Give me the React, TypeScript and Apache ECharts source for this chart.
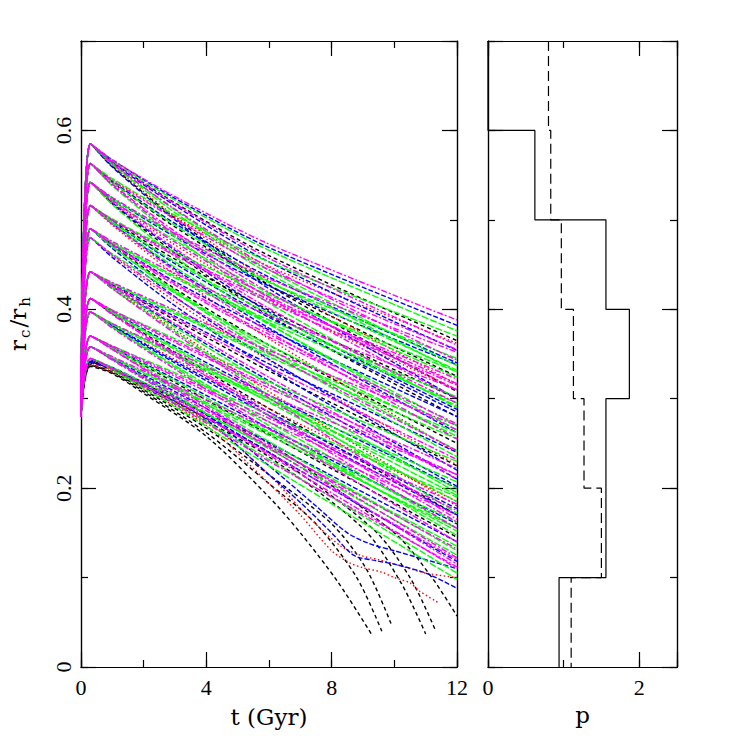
import { useEffect, useRef } from "react";
import * as echarts from "echarts";

// ---------- data ----------
const START_VALUE = 0.28; // r_c/r_h at t = 0
const READ_TIMES = [0.3, 1, 3, 6, 12]; // Gyr at which each curve was read

// rows: [colour code, value at 0.3, 1, 3, 6, 12 Gyr]
const familyA = [
  ["m", 0.585, 0.567, 0.526, 0.473, 0.388],
  ["b", 0.585, 0.567, 0.524, 0.469, 0.382],
  ["g", 0.585, 0.566, 0.522, 0.466, 0.376],
  ["k", 0.585, 0.565, 0.519, 0.46, 0.365],
  ["m", 0.585, 0.565, 0.518, 0.457, 0.36],
  ["b", 0.585, 0.564, 0.516, 0.453, 0.354],
  ["m", 0.585, 0.563, 0.512, 0.447, 0.343],
  ["g", 0.585, 0.563, 0.511, 0.444, 0.337],
  ["g", 0.585, 0.562, 0.508, 0.44, 0.33],
  ["r", 0.585, 0.561, 0.504, 0.432, 0.316],
  ["k", 0.585, 0.56, 0.502, 0.427, 0.308],
  ["b", 0.585, 0.559, 0.5, 0.423, 0.3],
];
const familyB = [
  ["g", 0.563, 0.546, 0.505, 0.453, 0.37],
  ["r", 0.563, 0.545, 0.503, 0.448, 0.362],
  ["m", 0.563, 0.544, 0.501, 0.444, 0.355],
  ["b", 0.563, 0.543, 0.496, 0.436, 0.34],
  ["g", 0.563, 0.542, 0.494, 0.431, 0.332],
  ["k", 0.563, 0.542, 0.492, 0.427, 0.325],
  ["m", 0.563, 0.54, 0.487, 0.419, 0.31],
  ["m", 0.563, 0.539, 0.484, 0.413, 0.3],
  ["g", 0.563, 0.538, 0.481, 0.407, 0.29],
];
const familyC = [
  ["m", 0.542, 0.525, 0.485, 0.434, 0.352],
  ["g", 0.542, 0.524, 0.483, 0.43, 0.345],
  ["b", 0.542, 0.524, 0.481, 0.426, 0.338],
  ["g", 0.542, 0.522, 0.477, 0.418, 0.324],
  ["m", 0.542, 0.522, 0.475, 0.414, 0.317],
  ["r", 0.542, 0.521, 0.472, 0.41, 0.31],
  ["m", 0.542, 0.52, 0.468, 0.401, 0.295],
  ["b", 0.542, 0.519, 0.466, 0.397, 0.288],
  ["k", 0.542, 0.518, 0.463, 0.393, 0.28],
  ["g", 0.542, 0.517, 0.459, 0.384, 0.265],
];
const familyD = [
  ["g", 0.516, 0.501, 0.464, 0.416, 0.33],
  ["m", 0.516, 0.5, 0.462, 0.411, 0.322],
  ["m", 0.516, 0.5, 0.46, 0.408, 0.315],
  ["k", 0.516, 0.499, 0.456, 0.399, 0.3],
  ["g", 0.516, 0.498, 0.453, 0.395, 0.292],
  ["b", 0.516, 0.498, 0.451, 0.391, 0.285],
  ["g", 0.516, 0.496, 0.447, 0.383, 0.27],
  ["b", 0.516, 0.496, 0.445, 0.379, 0.262],
  ["m", 0.516, 0.495, 0.443, 0.375, 0.255],
  ["r", 0.516, 0.494, 0.439, 0.367, 0.24],
];
const familyE = [
  ["m", 0.49, 0.476, 0.44, 0.393, 0.31],
  ["g", 0.49, 0.475, 0.437, 0.388, 0.302],
  ["g", 0.49, 0.474, 0.435, 0.385, 0.295],
  ["b", 0.49, 0.473, 0.431, 0.377, 0.28],
  ["m", 0.49, 0.473, 0.429, 0.372, 0.272],
  ["m", 0.49, 0.472, 0.427, 0.369, 0.265],
  ["k", 0.49, 0.471, 0.423, 0.36, 0.25],
  ["g", 0.49, 0.47, 0.421, 0.356, 0.242],
  ["g", 0.49, 0.47, 0.419, 0.352, 0.235],
  ["b", 0.49, 0.468, 0.414, 0.344, 0.22],
];
const familyE2 = [
  ["g", 0.48, 0.462, 0.418, 0.36, 0.258],
  ["m", 0.48, 0.461, 0.413, 0.351, 0.242],
  ["r", 0.48, 0.46, 0.409, 0.343, 0.226],
  ["b", 0.48, 0.458, 0.404, 0.334, 0.21],
];
const familyF = [
  ["m", 0.442, 0.43, 0.399, 0.354, 0.27],
  ["g", 0.442, 0.429, 0.397, 0.35, 0.262],
  ["g", 0.442, 0.429, 0.395, 0.347, 0.255],
  ["b", 0.442, 0.428, 0.392, 0.339, 0.24],
  ["m", 0.442, 0.427, 0.39, 0.335, 0.232],
  ["k", 0.442, 0.427, 0.388, 0.331, 0.225],
  ["m", 0.442, 0.426, 0.384, 0.324, 0.21],
  ["b", 0.442, 0.425, 0.382, 0.32, 0.202],
  ["g", 0.442, 0.425, 0.38, 0.316, 0.195],
  ["r", 0.442, 0.424, 0.377, 0.308, 0.18],
  ["g", 0.442, 0.423, 0.375, 0.304, 0.172],
  ["m", 0.442, 0.423, 0.373, 0.301, 0.165],
];
const familyG = [
  ["g", 0.412, 0.399, 0.367, 0.319, 0.23],
  ["m", 0.412, 0.399, 0.365, 0.315, 0.222],
  ["m", 0.412, 0.398, 0.363, 0.312, 0.215],
  ["b", 0.412, 0.397, 0.359, 0.304, 0.2],
  ["g", 0.412, 0.397, 0.357, 0.3, 0.192],
  ["g", 0.412, 0.396, 0.355, 0.296, 0.185],
  ["k", 0.412, 0.395, 0.352, 0.289, 0.17],
  ["m", 0.412, 0.395, 0.35, 0.285, 0.162],
  ["m", 0.412, 0.394, 0.348, 0.281, 0.155],
];
const familyH = [
  ["m", 0.397, 0.384, 0.352, 0.304, 0.215],
  ["g", 0.397, 0.384, 0.35, 0.3, 0.207],
  ["g", 0.397, 0.383, 0.348, 0.297, 0.2],
  ["r", 0.397, 0.382, 0.344, 0.289, 0.185],
  ["b", 0.397, 0.382, 0.342, 0.285, 0.177],
  ["b", 0.397, 0.381, 0.34, 0.281, 0.17],
  ["g", 0.397, 0.38, 0.337, 0.274, 0.155],
  ["g", 0.397, 0.38, 0.335, 0.27, 0.147],
  ["m", 0.397, 0.379, 0.333, 0.266, 0.14],
];
const familyI = [
  ["g", 0.37, 0.359, 0.329, 0.282, 0.19],
  ["m", 0.37, 0.359, 0.327, 0.278, 0.182],
  ["m", 0.37, 0.358, 0.325, 0.274, 0.175],
  ["b", 0.37, 0.357, 0.322, 0.267, 0.16],
  ["g", 0.37, 0.357, 0.32, 0.263, 0.152],
  ["k", 0.37, 0.357, 0.318, 0.26, 0.145],
  ["g", 0.37, 0.356, 0.315, 0.252, 0.13],
  ["m", 0.37, 0.355, 0.313, 0.249, 0.122],
  ["m", 0.37, 0.355, 0.311, 0.245, 0.115],
];
const familyJ = [
  ["m", 0.358, 0.347, 0.315, 0.266, 0.17],
  ["g", 0.358, 0.346, 0.313, 0.262, 0.162],
  ["g", 0.358, 0.346, 0.311, 0.259, 0.155],
  ["b", 0.358, 0.345, 0.308, 0.251, 0.14],
  ["m", 0.358, 0.344, 0.306, 0.247, 0.132],
  ["g", 0.358, 0.344, 0.304, 0.244, 0.125],
  ["b", 0.358, 0.344, 0.303, 0.24, 0.118],
  ["m", 0.358, 0.343, 0.301, 0.237, 0.11],
];
const familyK = [
  ["g", 0.345, 0.335, 0.301, 0.246, 0.135],
  ["m", 0.345, 0.334, 0.298, 0.239, 0.12],
  ["g", 0.345, 0.333, 0.295, 0.232, 0.105],
  ["m", 0.345, 0.333, 0.294, 0.23, 0.112],
  ["g", 0.345, 0.332, 0.291, 0.225, 0.098],
];

// collapsing / noisy low curves, read point by point: [t, r_c/r_h]
const tailCurves: { c: string; pts: number[][] }[] = [
  { c: "k", pts: [[0, 0.28], [0.3, 0.336], [1, 0.328], [2, 0.306], [4, 0.258], [6, 0.19], [7, 0.15], [8.2, 0.095], [9.3, 0.035]] },
  { c: "k", pts: [[0, 0.28], [0.3, 0.337], [1, 0.329], [2, 0.308], [4, 0.262], [6, 0.205], [7.5, 0.16], [8.8, 0.1], [9.6, 0.04]] },
  { c: "k", pts: [[0, 0.28], [0.3, 0.338], [1, 0.33], [2, 0.31], [4, 0.267], [6, 0.215], [8, 0.16], [9.1, 0.11], [9.9, 0.048]] },
  { c: "k", pts: [[0, 0.28], [0.3, 0.34], [1, 0.332], [2, 0.313], [4, 0.275], [6, 0.235], [9, 0.155], [10.2, 0.095], [11.0, 0.037]] },
  { c: "k", pts: [[0, 0.28], [0.3, 0.341], [1, 0.333], [2, 0.315], [4, 0.278], [6, 0.24], [9.3, 0.155], [10.5, 0.1], [11.3, 0.042]] },
  { c: "k", pts: [[0, 0.28], [0.3, 0.342], [1, 0.334], [2, 0.317], [4, 0.283], [6, 0.25], [10, 0.15], [11.2, 0.1], [12, 0.057]] },
  { c: "r", pts: [[0, 0.28], [0.3, 0.338], [1, 0.33], [2, 0.311], [4, 0.27], [6, 0.205], [7, 0.17], [8, 0.13], [8.6, 0.116], [9, 0.111], [9.6, 0.106], [10, 0.1], [10.5, 0.094], [10.8, 0.085], [11.4, 0.072]] },
  { c: "r", pts: [[0, 0.28], [0.3, 0.34], [1, 0.332], [2, 0.314], [4, 0.275], [6, 0.215], [7.2, 0.17], [8.3, 0.135], [9, 0.124], [9.5, 0.12], [10.3, 0.112], [11, 0.105], [12, 0.1]] },
  { c: "b", pts: [[0, 0.28], [0.3, 0.341], [1, 0.333], [2, 0.315], [4, 0.277], [6, 0.215], [7, 0.184], [8, 0.15], [8.7, 0.125], [9.4, 0.119], [10, 0.115], [11, 0.105], [12, 0.088]] },
  { c: "b", pts: [[0, 0.28], [0.3, 0.343], [1, 0.335], [2, 0.318], [4, 0.282], [6, 0.225], [7.5, 0.18], [8.5, 0.15], [9.2, 0.138], [10, 0.13], [11, 0.12], [12, 0.11]] },
];

// right panel: distribution of p in bins of r_c/r_h
const binEdges = [0, 0.1, 0.2, 0.3, 0.4, 0.5, 0.6, 0.7];
const pSolid = [0.94, 1.56, 1.56, 1.87, 1.56, 0.62, 0];
const pDashed = [1.1, 1.5, 1.27, 1.13, 0.97, 0.83, 0.8];

const tLabels = [0, 4, 8, 12];
const pLabels = [0, 2];
const yLabels = [0, 0.2, 0.4, 0.6];
const yTitleParts = [
  { text: "r", sub: false },
  { text: "c", sub: true },
  { text: "/r", sub: false },
  { text: "h", sub: true },
];

// ---------- styles ----------
const COLORS: Record<string, string> = {
  k: "#000000",
  r: "#ff0000",
  b: "#0000ff",
  g: "#00ff00",
  m: "#ff00ff",
};
const DASHES: Record<string, number[]> = {
  k: [4, 3],
  r: [1.5, 2.5],
  b: [5, 2],
  g: [7, 2],
  m: [6, 2, 2, 2],
};
const ORDER = ["k", "r", "b", "g", "m"];
const TICK_FONT = "Liberation Serif";
const NAME_FONT = "DejaVu Serif";
const TICK_FS = 22;
const NAME_FS = 23;

function textWidth(text: string, size: number, family: string) {
  try {
    const T: any = (echarts.graphic as any).Text;
    const t = new T({ style: { text, fontSize: size, fontFamily: family } });
    const w = t.getBoundingRect().width;
    if (w > 0) return w;
  } catch (e) {
    /* ignore */
  }
  return text.length * size * 0.5;
}

function buildOption() {
  const families = [familyA, familyB, familyC, familyD, familyE, familyE2, familyF, familyG, familyH, familyI, familyJ, familyK];
  const curves: { c: string; pts: number[][] }[] = [];
  families.forEach((fam) =>
    fam.forEach((row) => {
      const c = row[0] as string;
      const vals = row.slice(1) as number[];
      const pts = [[0, START_VALUE]].concat(vals.map((v, i) => [READ_TIMES[i], v]));
      curves.push({ c, pts });
    })
  );
  tailCurves.forEach((tc) => curves.push(tc));

  const series: any[] = [];
  ORDER.forEach((code, oi) => {
    curves
      .filter((cv) => cv.c === code)
      .forEach((cv, i) => {
        series.push({
          type: "line",
          xAxisIndex: 0,
          yAxisIndex: 0,
          data: cv.pts,
          smooth: 0.3,
          showSymbol: false,
          symbol: "none",
          silent: true,
          z: 2 + oi,
          lineStyle: { color: COLORS[code], width: 1.4, type: DASHES[code], dashOffset: (i * 3) % 7 },
        });
      });
  });

  const stepPoints = (vals: number[]) => {
    const pts: number[][] = [];
    for (let i = vals.length - 1; i >= 0; i--) {
      pts.push([vals[i], binEdges[i + 1]]);
      pts.push([vals[i], binEdges[i]]);
    }
    return pts;
  };
  series.push({
    type: "line",
    xAxisIndex: 4,
    yAxisIndex: 4,
    data: stepPoints(pSolid),
    showSymbol: false,
    symbol: "none",
    silent: true,
    lineStyle: { color: "#000", width: 1.2, type: "solid" },
  });
  series.push({
    type: "line",
    xAxisIndex: 4,
    yAxisIndex: 4,
    data: stepPoints(pDashed),
    showSymbol: false,
    symbol: "none",
    silent: true,
    lineStyle: { color: "#000", width: 1.2, type: [10, 5] },
  });

  const labelFmt = (list: number[]) => (v: number) => {
    const r = Math.round(v * 1000) / 1000;
    return list.some((x) => Math.abs(x - r) < 1e-6) ? String(r) : "";
  };

  const ax = (
    gridIndex: number,
    position: string,
    min: number,
    max: number,
    interval: number,
    len: number,
    extra: any = {}
  ) => ({
    type: "value",
    gridIndex,
    position,
    min,
    max,
    interval,
    axisLine: { show: true, onZero: false, lineStyle: { color: "#000", width: 1.2 } },
    axisTick: { show: true, inside: true, length: len, lineStyle: { color: "#000", width: 1.2 } },
    axisLabel: { show: false },
    splitLine: { show: false },
    ...extra,
  });

  const tickLabel = (list: number[], rotate = 0, margin = 10) => ({
    axisLabel: {
      show: true,
      formatter: labelFmt(list),
      color: "#000",
      fontFamily: TICK_FONT,
      fontSize: TICK_FS,
      rotate,
      margin,
      showMinLabel: true,
      showMaxLabel: true,
      hideOverlap: false,
    },
  });

  const nameStyle = { color: "#000", fontFamily: NAME_FONT, fontSize: NAME_FS };

  const xAxis = [
    ax(0, "bottom", 0, 12, 4, 15, {
      ...tickLabel(tLabels, 0, 9),
      name: "t (Gyr)",
      nameLocation: "middle",
      nameGap: 38,
      nameTextStyle: nameStyle,
    }),
    ax(0, "bottom", 0, 12, 2, 7),
    ax(0, "top", 0, 12, 4, 15),
    ax(0, "top", 0, 12, 2, 7),
    ax(1, "bottom", 0, 2.5, 2, 15, {
      ...tickLabel(pLabels, 0, 9),
      name: "p",
      nameLocation: "middle",
      nameGap: 36,
      nameTextStyle: nameStyle,
    }),
    ax(1, "bottom", 0, 2.5, 1, 7),
    ax(1, "top", 0, 2.5, 2, 15),
    ax(1, "top", 0, 2.5, 1, 7),
  ];
  const yAxis = [
    ax(0, "left", 0, 0.7, 0.2, 15, { ...tickLabel(yLabels, 90, 7) }),
    ax(0, "left", 0, 0.7, 0.1, 7),
    ax(0, "right", 0, 0.7, 0.2, 15),
    ax(0, "right", 0, 0.7, 0.1, 7),
    ax(1, "left", 0, 0.7, 0.2, 15),
    ax(1, "left", 0, 0.7, 0.1, 7),
    ax(1, "right", 0, 0.7, 0.2, 15),
    ax(1, "right", 0, 0.7, 0.1, 7),
  ];

  // y-axis title with subscripts, written bottom-to-top
  const SUB_FS = 15;
  const GAP = 2;
  const widths = yTitleParts.map((p) => textWidth(p.text, p.sub ? SUB_FS : NAME_FS, NAME_FONT));
  const total = widths.reduce((a, b) => a + b, 0) + GAP * (widths.length - 1);
  let cursor = -total / 2;
  const titleChildren = yTitleParts.map((p, i) => {
    const el = {
      type: "text",
      x: cursor,
      y: p.sub ? 7 : 0,
      style: {
        text: p.text,
        fontSize: p.sub ? SUB_FS : NAME_FS,
        fontFamily: NAME_FONT,
        fill: "#000",
        align: "left",
        verticalAlign: "middle",
        textAlign: "left",
        textVerticalAlign: "middle",
      },
    };
    cursor += widths[i] + GAP;
    return el;
  });

  return {
    animation: false,
    backgroundColor: "#ffffff",
    grid: [
      { left: 81, top: 41, width: 376, height: 626, containLabel: false },
      { left: 488, top: 41, width: 189, height: 626, containLabel: false },
    ],
    xAxis,
    yAxis,
    series,
    graphic: [
      {
        type: "group",
        x: 18,
        y: 324,
        rotation: Math.PI / 2,
        children: titleChildren,
      },
    ],
  };
}

export default function App() {
  const ref = useRef<HTMLDivElement>(null);
  useEffect(() => {
    if (!ref.current) return;
    const chart = echarts.init(ref.current, undefined, { renderer: "svg" });
    chart.setOption(buildOption() as any);
    return () => chart.dispose();
  }, []);
  return (
    <div
      ref={ref}
      style={{ position: "absolute", left: 0, top: 0, width: 747, height: 747, background: "#fff" }}
    />
  );
}
